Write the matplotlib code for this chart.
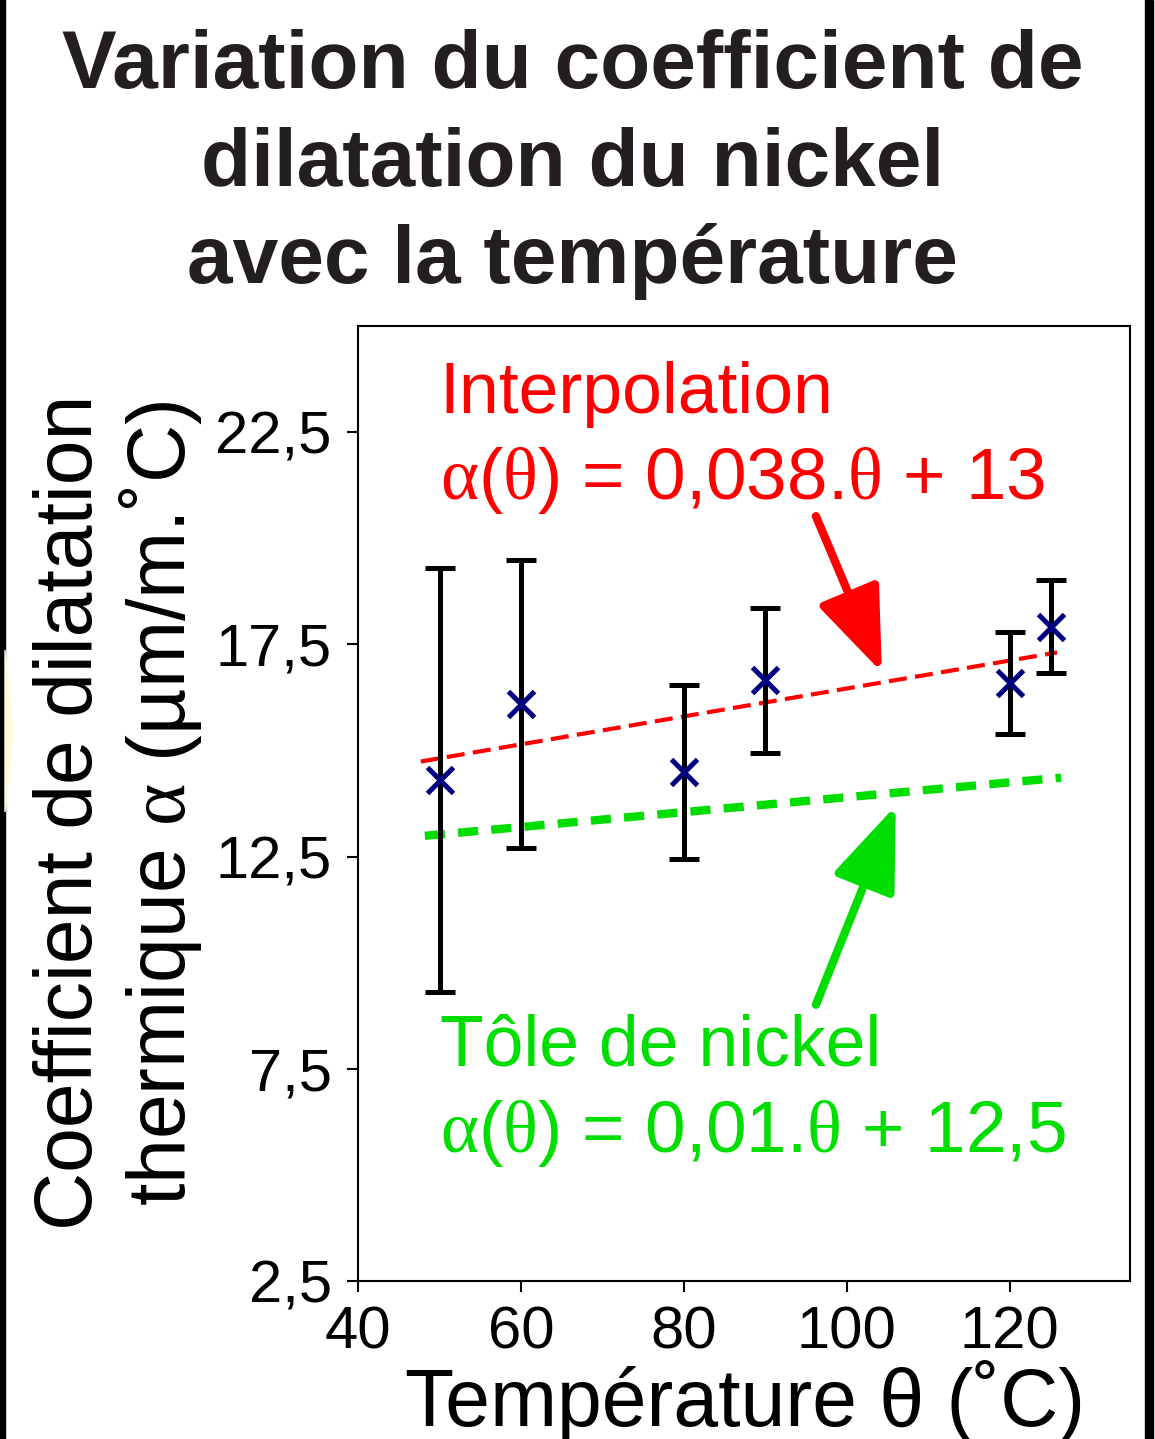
import matplotlib
matplotlib.use("Agg")
import matplotlib.pyplot as plt
from matplotlib.patches import Rectangle, Polygon

plt.rcParams['font.family'] = ['Liberation Sans', 'DejaVu Sans']
plt.rcParams['mathtext.fontset'] = 'custom'
plt.rcParams['mathtext.rm'] = 'Liberation Sans'
plt.rcParams['mathtext.it'] = 'Liberation Serif'
plt.rcParams['lines.scale_dashes'] = False

# measured points (temperature in degC, alpha in um/m.degC)
temp = [50, 60, 80, 90, 120, 125]
alpha = [14.3, 16.1, 14.5, 16.65, 16.6, 17.92]
alpha_err = [5.0, 3.4, 2.05, 1.7, 1.2, 1.1]

# fitted line (interpolation) and sheet reference line, drawn end to end
fit_x = [47.7, 125.8]
fit_y = [14.74, 17.31]
sheet_x = [48.2, 126.3]
sheet_y = [12.99, 14.36]

xticks = [40, 60, 80, 100, 120]
yticks = [2.5, 7.5, 12.5, 17.5, 22.5]
ytick_labels = ['2,5', '7,5', '12,5', '17,5', '22,5']

red = '#ff0000'
green = '#00dd00'
navy = '#000080'
dark = '#231f20'

fig = plt.figure(figsize=(11.55, 14.39), dpi=100)
ax = fig.add_axes([0.310, 0.1098, 0.668, 0.6636])

# page borders / decoration
fig.patches.append(Rectangle((0, 0), 5 / 1155, 1, transform=fig.transFigure,
                             color='black', zorder=0))
fig.patches.append(Rectangle((1145 / 1155, 0), 7.5 / 1155, 1, transform=fig.transFigure,
                             color='black', zorder=0))
fig.patches.append(Polygon([(5 / 1155, 1 - 650 / 1439), (13 / 1155, 1 - 732 / 1439),
                            (5 / 1155, 1 - 812 / 1439)], closed=True,
                           transform=fig.transFigure, color='#fffadc', zorder=0))

# lines
l1, = ax.plot(fit_x, fit_y, color=red, lw=3, ls='--', zorder=2)
l1.set_dashes([13, 6])
l2, = ax.plot(sheet_x, sheet_y, color=green, lw=6, ls='--', zorder=2)
l2.set_dashes([14.5, 9.5])

ax.errorbar(temp, alpha, yerr=alpha_err, fmt='none', ecolor='black',
            elinewidth=3.6, capsize=11, capthick=3.6, zorder=3)
ax.plot(temp, alpha, 'x', color=navy, ms=19, mew=3.6, zorder=4)

# annotations
ax.text(50.0, 22.95, 'Interpolation', color=red, fontsize=51.5, va='baseline')
ax.text(50.0, 20.92, r'$\alpha$($\theta$) = 0,038.$\theta$ + 13', color=red,
        fontsize=52.5, va='baseline')
ax.text(50.0, 7.57, 'Tôle de nickel', color=green, fontsize=51.5, va='baseline')
ax.text(50.0, 5.54, r'$\alpha$($\theta$) = 0,01.$\theta$ + 12,5', color=green,
        fontsize=52.5, va='baseline')

arrow_style = '-|>,head_length=2.6,head_width=1.0'
ax.annotate('', xy=(104.3, 16.84), xytext=(96.2, 20.52),
            arrowprops=dict(arrowstyle=arrow_style, color=red, lw=6,
                            shrinkA=0, shrinkB=0, mutation_scale=20), zorder=5)
ax.annotate('', xy=(106.0, 13.7), xytext=(96.2, 9.01),
            arrowprops=dict(arrowstyle=arrow_style, color=green, lw=6,
                            shrinkA=0, shrinkB=0, mutation_scale=20), zorder=5)

ax.set_xlim(40, 134.7)
ax.set_ylim(2.5, 25.0)
ax.set_xticks(xticks)
ax.set_yticks(yticks)
ax.set_yticklabels(ytick_labels)
ax.tick_params(labelsize=43, length=8, width=1.5, direction='out')
ax.tick_params(axis='x', pad=10)
ax.tick_params(axis='y', pad=11)
for sp in ax.spines.values():
    sp.set_linewidth(1.5)

# title
fig.text(0.496, 1 - 88 / 1439, 'Variation du coefficient de', ha='center',
         va='baseline', fontsize=59, fontweight='bold', color=dark)
fig.text(0.496, 1 - 186 / 1439, 'dilatation du nickel', ha='center',
         va='baseline', fontsize=59, fontweight='bold', color=dark)
fig.text(0.496, 1 - 283 / 1439, 'avec la température', ha='center',
         va='baseline', fontsize=59, fontweight='bold', color=dark)

# axis labels
fig.text(92 / 1155, 1 - 812 / 1439, 'Coefficient de dilatation', rotation=90,
         rotation_mode='anchor', ha='center', va='baseline', fontsize=58)
fig.text(185 / 1155, 1 - 803 / 1439, r'thermique $\alpha$ (µm/m.˚C)', rotation=90,
         rotation_mode='anchor', ha='center', va='baseline', fontsize=58)
fig.text(745 / 1155, 1 - 1426 / 1439, 'Température θ (˚C)', ha='center',
         va='baseline', fontsize=58)

fig.savefig('out.png', dpi=100)
